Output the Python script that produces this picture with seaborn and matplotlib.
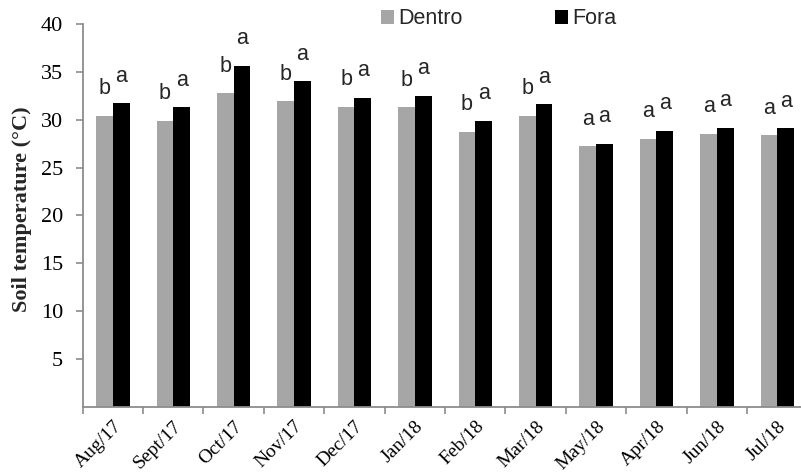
import matplotlib
matplotlib.use("Agg")
import matplotlib.pyplot as plt
from matplotlib.patches import Patch
import seaborn as sns
import pandas as pd
import numpy as np

# Monthly mean soil temperature (°C), inside vs outside
months = ["Aug/17", "Sept/17", "Oct/17", "Nov/17", "Dec/17", "Jan/18",
          "Feb/18", "Mar/18", "May/18", "Apr/18", "Jun/18", "Jul/18"]
dentro = [30.4, 29.9, 32.75, 31.9, 31.35, 31.3, 28.7, 30.4, 27.2, 28.0, 28.5, 28.35]
fora = [31.7, 31.3, 35.6, 34.0, 32.3, 32.5, 29.85, 31.6, 27.5, 28.8, 29.15, 29.1]
letters_dentro = ["b", "b", "b", "b", "b", "b", "b", "b", "a", "a", "a", "a"]
letters_fora = ["a", "a", "a", "a", "a", "a", "a", "a", "a", "a", "a", "a"]
series = ["Dentro", "Fora"]

df = pd.DataFrame({
    "month": months * 2,
    "value": dentro + fora,
    "group": [series[0]] * len(months) + [series[1]] * len(months),
})

sns.set_theme(style="white")
plt.rcParams["font.family"] = ["Liberation Serif", "DejaVu Serif"]

W, H = 801, 475
fig = plt.figure(figsize=(W / 100, H / 100), dpi=100)
left_px, right_px, top_px, bottom_px = 82.7, 807.5, 24.0, 406.7
ax = fig.add_axes([left_px / W, 1 - bottom_px / H,
                   (right_px - left_px) / W, (bottom_px - top_px) / H])

palette = {"Dentro": "#A6A6A6", "Fora": "#000000"}
sns.barplot(data=df, x="month", y="value", hue="group", order=months,
            hue_order=series, palette=palette, width=0.55, saturation=1,
            edgecolor="none", linewidth=0, ax=ax, legend=False)

ax.set_xlim(-0.5, len(months) - 0.5)
ax.set_ylim(0, 40)
ax.set_yticks(np.arange(5, 41, 5))
ax.set_yticklabels([str(v) for v in range(5, 41, 5)], fontsize=16)

grey = "#8C8C8C"
for side in ["top", "right"]:
    ax.spines[side].set_visible(False)
for side in ["left", "bottom"]:
    ax.spines[side].set_color(grey)
    ax.spines[side].set_linewidth(1.3)

ax.tick_params(axis="y", direction="out", length=5, width=1.2, color=grey,
               left=True, pad=9, labelcolor="black")
ax.set_xticks(range(len(months)))
ax.set_xticklabels(months, rotation=45, ha="right", va="top",
                   rotation_mode="anchor", fontsize=14)
ax.tick_params(axis="x", which="major", length=0, pad=8, labelcolor="black")
ax.set_xticks(np.arange(-0.5, len(months), 1.0), minor=True)
ax.tick_params(axis="x", which="minor", direction="out", length=5, width=1.2,
               color=grey, bottom=True)

ax.set_xlabel("")
ax.set_ylabel("Soil temperature (°C)", fontsize=16, fontweight="bold")
ax.yaxis.set_label_coords(-0.07, 0.515)

# Significance letters above each bar
for container, letters in zip(ax.containers, [letters_dentro, letters_fora]):
    for bar, letter in zip(container, letters):
        x = bar.get_x() + bar.get_width() / 2
        y = bar.get_height()
        ax.annotate(letter, (x, y), xytext=(0, 12), textcoords="offset points",
                    ha="center", va="bottom", fontsize=15.5,
                    family=["Liberation Sans", "DejaVu Sans"])

handles = [Patch(facecolor=palette[s], edgecolor="none", label=s) for s in series]
fig.legend(handles=handles, loc="center left",
           bbox_to_anchor=(381 / W, 1 - 19 / H), ncol=2, frameon=False,
           handlelength=0.6, handleheight=0.6, handletextpad=0.2,
           columnspacing=4.3, borderpad=0, borderaxespad=0,
           prop={"family": ["Liberation Sans", "DejaVu Sans"], "size": 15.5})

fig.savefig("out.png", dpi=100)
